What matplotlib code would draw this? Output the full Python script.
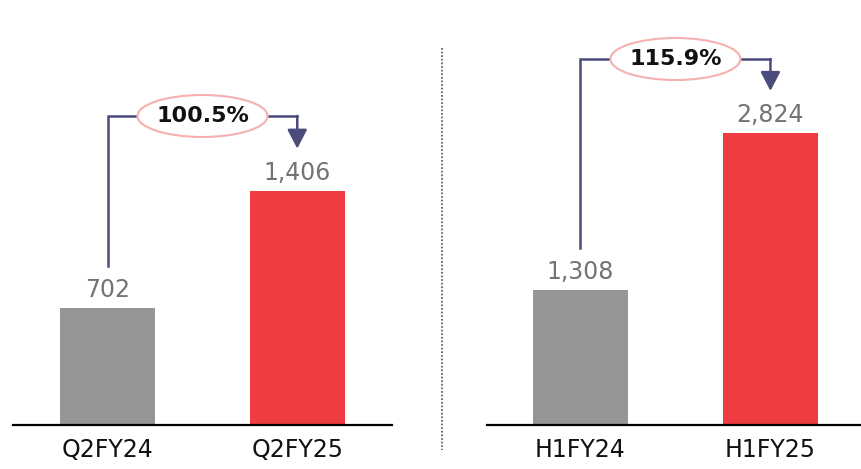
import matplotlib
matplotlib.use("Agg")
import matplotlib.pyplot as plt
from matplotlib.patches import Ellipse
from matplotlib.lines import Line2D

# quarter and half-year figures
q_labels = ["Q2FY24", "Q2FY25"]
q_values = [702, 1406]
q_growth = "100.5%"

h_labels = ["H1FY24", "H1FY25"]
h_values = [1308, 2824]
h_growth = "115.9%"

bar_colors = ["#969696", "#ef3b42"]
line_color = "#4b4b7c"
W, H = 862, 469


def panel(ax, labels, values, growth, ymax, level):
    xs = [0, 1]
    ax.bar(xs, values, width=0.5, color=bar_colors, zorder=2)
    ax.set_ylim(0, ymax)
    for s in ("left", "right", "top"):
        ax.spines[s].set_visible(False)
    ax.spines["bottom"].set_linewidth(1.6)
    ax.set_yticks([])
    ax.set_xticks(xs)
    ax.set_xticklabels(labels, fontsize=17, color="#111111")
    ax.tick_params(axis="x", length=0, pad=9)

    for x, v in zip(xs, values):
        ax.annotate(f"{v:,}", (x, v), xytext=(0, 8), textcoords="offset points",
                    ha="center", va="baseline", fontsize=17, color="#737373")

    # pixel -> data helpers for this axes
    bbox = ax.get_window_extent()
    x0, x1 = ax.get_xlim()
    dx = (x1 - x0) / bbox.width
    dy = ymax / bbox.height
    gap = 42 * dy

    y_line = level * ymax
    ax.plot([0, 0, 1], [values[0] + gap, y_line, y_line],
            color=line_color, lw=1.8, solid_joinstyle="miter", zorder=3)
    ax.annotate("", xy=(1, values[1] + gap), xytext=(1, y_line),
                arrowprops=dict(arrowstyle="-|>,head_length=0.58,head_width=0.3",
                                mutation_scale=20, color=line_color, lw=1.8,
                                shrinkA=0, shrinkB=0), zorder=3)
    ax.add_patch(Ellipse((0.5, y_line), 130 * dx, 42 * dy, facecolor="white",
                         edgecolor="#f5b0b0", lw=1.5, zorder=4))
    ax.text(0.5, y_line, growth, ha="center", va="center", fontsize=16,
            fontweight="bold", color="#111111", zorder=5)


fig = plt.figure(figsize=(W / 100, H / 100), dpi=100)
base = (H - 425) / H
top_h = 425 / H

ax1 = fig.add_axes([13 / W, base, 379 / W, top_h])
ax1.set_xlim(-0.5, 1.5)
ax2 = fig.add_axes([487 / W, base, 375 / W, top_h])
ax2.set_xlim(-0.492, 1.482)

panel(ax1, q_labels, q_values, q_growth, 425 * 6.0, 309 / 425)
panel(ax2, h_labels, h_values, h_growth, 425 * 9.67, 366 / 425)

# dotted separator between the panels
fig.add_artist(Line2D([442 / W, 442 / W], [1 - 48 / H, 1 - 450 / H],
                      color="#666666", lw=1.3, linestyle=(0, (1, 1))))

fig.savefig("out.png", dpi=100)
